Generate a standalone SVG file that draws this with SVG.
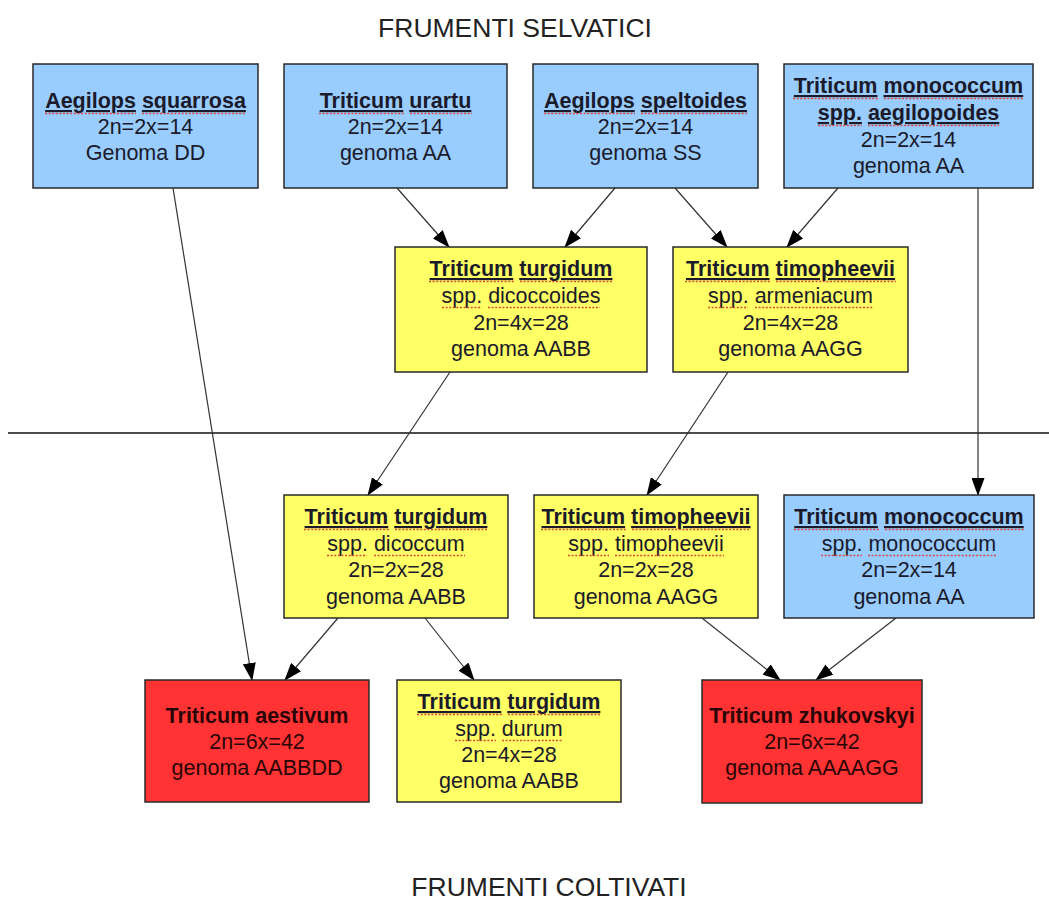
<svg xmlns="http://www.w3.org/2000/svg" width="1049" height="900" viewBox="0 0 1049 900">
<style>
  text { font-family: "Liberation Sans", Arial, sans-serif; font-size: 21.5px; text-anchor: middle; fill: #1a1a2a; }
  .title { font-size: 26.5px; fill: #222; }
  .b { font-weight: bold; }
  .u { text-decoration: underline; }
  .sq { stroke: #d84a3a; stroke-width: 1.3; stroke-dasharray: 2 1.6; fill: none; }
  .blue { fill: #99ccff; stroke: #2a2a2a; stroke-width: 1.5; }
  .yellow { fill: #ffff66; stroke: #2a2a2a; stroke-width: 1.5; }
  .red { fill: #ff3333; stroke: #2a2a2a; stroke-width: 1.5; }
  .red-t text { fill: #2a0505; }
  .edge { stroke: #333; stroke-width: 1.2; fill: none; marker-end: url(#arr); }
</style>
<defs>
  <marker id="arr" markerUnits="userSpaceOnUse" markerWidth="18" markerHeight="13" refX="17" refY="6.5" orient="auto">
    <path d="M0,0 L18,6.5 L0,13 Z" fill="#000"/>
  </marker>
</defs>
<rect width="1049" height="900" fill="#ffffff"/>

<text class="title" x="515" y="37">FRUMENTI SELVATICI</text>
<text class="title" x="549" y="896">FRUMENTI COLTIVATI</text>

<line x1="8" y1="433" x2="1049" y2="433" stroke="#111" stroke-width="1.5"/>

<g id="connectors">
  <line class="edge" x1="173" y1="188" x2="252" y2="680"/>
  <line class="edge" x1="397" y1="188" x2="449" y2="247"/>
  <line class="edge" x1="615" y1="188" x2="565" y2="247"/>
  <line class="edge" x1="675" y1="188" x2="727" y2="247"/>
  <line class="edge" x1="838" y1="188" x2="787" y2="247"/>
  <line class="edge" x1="978" y1="188" x2="978" y2="495"/>
  <line class="edge" x1="450" y1="372" x2="368" y2="495"/>
  <line class="edge" x1="728" y1="372" x2="647" y2="495"/>
  <line class="edge" x1="338" y1="618" x2="285" y2="680"/>
  <line class="edge" x1="425" y1="618" x2="474" y2="680"/>
  <line class="edge" x1="702" y1="618" x2="780" y2="680"/>
  <line class="edge" x1="896" y1="618" x2="816" y2="680"/>
</g>

<g id="n-squarrosa">
  <rect class="blue" x="33" y="64" width="225" height="124"/>
  <text x="145.5" y="108" class="b"><tspan class="u">Aegilops</tspan> <tspan class="u">squarrosa</tspan></text>
  <text x="145.5" y="134">2n=2x=14</text>
  <text x="145.5" y="160">Genoma DD</text>
  <path class="sq" d="M45,113.5H136M142,113.5H246"/>
</g>
<g id="n-urartu">
  <rect class="blue" x="284" y="64" width="223" height="124"/>
  <text x="395.5" y="108" class="b"><tspan class="u">Triticum</tspan> <tspan class="u">urartu</tspan></text>
  <text x="395.5" y="134">2n=2x=14</text>
  <text x="395.5" y="160">genoma AA</text>
  <path class="sq" d="M319,113.5H404M410,113.5H472"/>
</g>
<g id="n-speltoides">
  <rect class="blue" x="533" y="64" width="225" height="124"/>
  <text x="645.5" y="108" class="b"><tspan class="u">Aegilops</tspan> <tspan class="u">speltoides</tspan></text>
  <text x="645.5" y="134">2n=2x=14</text>
  <text x="645.5" y="160">genoma SS</text>
  <path class="sq" d="M544,113.5H635M641,113.5H747"/>
</g>
<g id="n-aegilopoides">
  <rect class="blue" x="784" y="64" width="249" height="124"/>
  <text x="908.5" y="93" class="b"><tspan class="u">Triticum</tspan> <tspan class="u">monococcum</tspan></text>
  <text x="908.5" y="120" class="b"><tspan class="u">spp.</tspan> <tspan class="u">aegilopoides</tspan></text>
  <text x="908.5" y="147">2n=2x=14</text>
  <text x="908.5" y="173">genoma AA</text>
  <path class="sq" d="M793,98.5H878M884,98.5H1024M818,125.5H862M868,125.5H999"/>
</g>

<g id="n-dicoccoides">
  <rect class="yellow" x="395" y="247" width="252" height="125"/>
  <text x="521" y="276" class="b"><tspan class="u">Triticum</tspan> <tspan class="u">turgidum</tspan></text>
  <text x="521" y="303">spp. dicoccoides</text>
  <text x="521" y="330">2n=4x=28</text>
  <text x="521" y="356">genoma AABB</text>
  <path class="sq" d="M429,281.5H514M520,281.5H613M442,307.5H482M488,307.5H600"/>
</g>
<g id="n-armeniacum">
  <rect class="yellow" x="673" y="247" width="235" height="125"/>
  <text x="790.5" y="276" class="b"><tspan class="u">Triticum</tspan> <tspan class="u">timopheevii</tspan></text>
  <text x="790.5" y="303">spp. armeniacum</text>
  <text x="790.5" y="330">2n=4x=28</text>
  <text x="790.5" y="356">genoma AAGG</text>
  <path class="sq" d="M685,281.5H770M776,281.5H896M708,307.5H748M755,307.5H873"/>
</g>

<g id="n-dicoccum">
  <rect class="yellow" x="284" y="495" width="224" height="123"/>
  <text x="396" y="524" class="b"><tspan class="u">Triticum</tspan> <tspan class="u">turgidum</tspan></text>
  <text x="396" y="551">spp. dicoccum</text>
  <text x="396" y="577">2n=2x=28</text>
  <text x="396" y="604">genoma AABB</text>
  <path class="sq" d="M304,529.5H389M395,529.5H488M327,555.5H367M374,555.5H465"/>
</g>
<g id="n-timopheevii">
  <rect class="yellow" x="534" y="495" width="224" height="123"/>
  <text x="646" y="524" class="b"><tspan class="u">Triticum</tspan> <tspan class="u">timopheevii</tspan></text>
  <text x="646" y="551">spp. timopheevii</text>
  <text x="646" y="577">2n=2x=28</text>
  <text x="646" y="604">genoma AAGG</text>
  <path class="sq" d="M541,529.5H626M632,529.5H751M568,555.5H609M615,555.5H724"/>
</g>
<g id="n-monococcum">
  <rect class="blue" x="784" y="495" width="250" height="123"/>
  <text x="909" y="524" class="b"><tspan class="u">Triticum</tspan> <tspan class="u">monococcum</tspan></text>
  <text x="909" y="551">spp. monococcum</text>
  <text x="909" y="577">2n=2x=14</text>
  <text x="909" y="604">genoma AA</text>
  <path class="sq" d="M794,529.5H879M885,529.5H1024M821,555.5H862M868,555.5H997"/>
</g>

<g id="n-aestivum" class="red-t">
  <rect class="red" x="145" y="680" width="224" height="122"/>
  <text x="257" y="723" class="b">Triticum aestivum</text>
  <text x="257" y="749">2n=6x=42</text>
  <text x="257" y="775">genoma AABBDD</text>
</g>
<g id="n-durum">
  <rect class="yellow" x="397" y="680" width="224" height="122"/>
  <text x="509" y="709" class="b"><tspan class="u">Triticum</tspan> <tspan class="u">turgidum</tspan></text>
  <text x="509" y="736">spp. durum</text>
  <text x="509" y="762">2n=4x=28</text>
  <text x="509" y="788">genoma AABB</text>
  <path class="sq" d="M417,714.5H502M508,714.5H601M455,740.5H496M502,740.5H563"/>
</g>
<g id="n-zhukovskyi" class="red-t">
  <rect class="red" x="702" y="680" width="220" height="123"/>
  <text x="812" y="723" class="b">Triticum zhukovskyi</text>
  <text x="812" y="749">2n=6x=42</text>
  <text x="812" y="775">genoma AAAAGG</text>
</g>
</svg>
